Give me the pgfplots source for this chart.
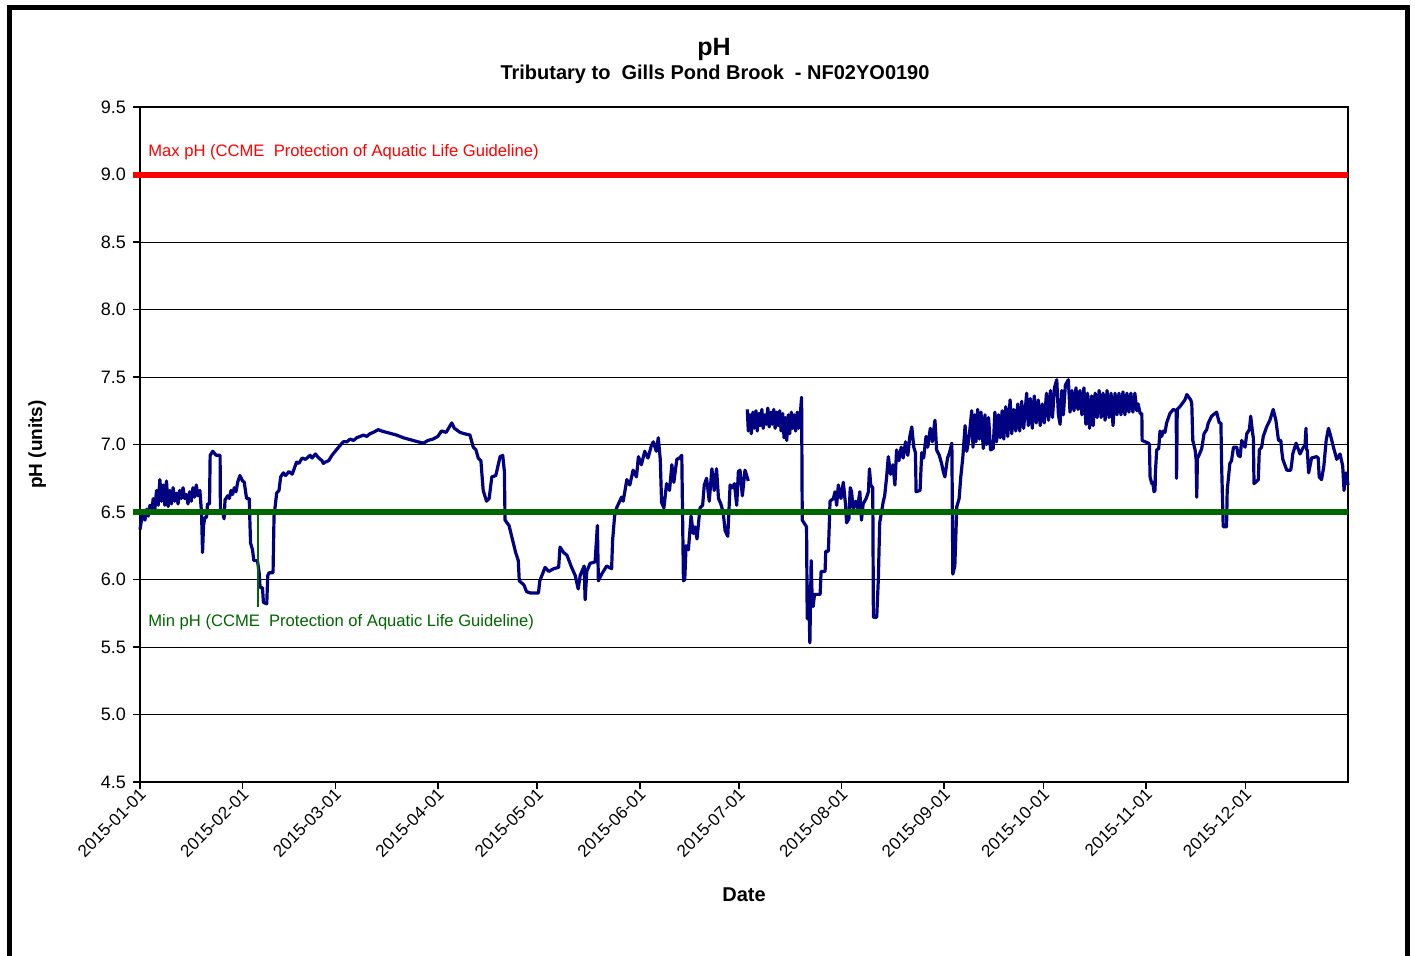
\documentclass[border=0pt]{standalone}
\usepackage{fontspec}
\setmainfont{Liberation Sans}
\usepackage{pgfplots}
\pgfplotsset{compat=1.18}
\definecolor{phnavy}{RGB}{0,0,128}
\definecolor{minGreen}{RGB}{0,102,0}

\begin{document}
\begin{tikzpicture}
\useasboundingbox (-70pt,-86.5pt) rectangle (637.5pt,391pt);
% outer chart frame (bottom edge lies below the page)
\draw[line width=2.5pt] (-65pt,-95pt) -- (-65pt,387pt) -- (633.5pt,387pt) -- (633.5pt,-95pt);
\node[font=\bfseries\fontsize{12.5}{14}\selectfont] at (287pt,366.5pt) {pH};
\node[font=\bfseries\fontsize{10}{12}\selectfont] at (287.5pt,354pt) {Tributary to\ \ Gills Pond Brook\ \ - NF02YO0190};

\begin{axis}[
  at={(0,0)}, anchor=south west,
  scale only axis, width=604pt, height=337.5pt,
  xmin=0, xmax=365, ymin=4.5, ymax=9.5,
  ytick={4.5,5.0,5.5,6.0,6.5,7.0,7.5,8.0,8.5,9.0,9.5},
  yticklabel style={font=\fontsize{9}{10}\selectfont, /pgf/number format/.cd, fixed, fixed zerofill, precision=1},
  /pgf/number format/assume math mode=true,
  xtick={0,31,59,90,120,151,181,212,243,273,304,334},
  xticklabels={2015-01-01,2015-02-01,2015-03-01,2015-04-01,2015-05-01,2015-06-01,2015-07-01,2015-08-01,2015-09-01,2015-10-01,2015-11-01,2015-12-01},
  xticklabel style={rotate=45, anchor=east, font=\fontsize{8.6}{9}\selectfont, xshift=3.5pt, yshift=-2pt},
  tick pos=left, tick align=outside, major tick length=3.5pt,
  tick style={black, line width=0.75pt},
  axis line style={line width=0.75pt},
  ymajorgrids, grid style={black, line width=0.5pt},
  xlabel={Date}, ylabel={pH (units)},
  xlabel style={font=\bfseries\fontsize{10}{12}\selectfont, at={(axis description cs:0.5,-0.167)}, anchor=center},
  ylabel style={font=\bfseries\fontsize{9.5}{11}\selectfont, at={(axis description cs:-0.085,0.5)}, anchor=center},
  clip=false,
]
% measured pH, January to end of June
\addplot[phnavy, line width=1.6pt, line join=round] coordinates {
(0,6.37)(0.5,6.45)(1,6.49)(1.5,6.44)(2,6.52)(2.5,6.47)(3,6.55)(3.5,6.50)(4,6.60)(4.5,6.52)
(5,6.66)(5.5,6.55)(6,6.74)(6.5,6.58)(7,6.70)(7.5,6.55)(8,6.73)(8.5,6.54)(9,6.66)(9.5,6.56)
(10,6.68)(10.5,6.58)(11,6.64)(11.5,6.56)(12,6.66)(12.5,6.60)(13,6.68)(13.5,6.60)(14,6.63)(14.5,6.56)
(15,6.65)(15.5,6.58)(16,6.68)(16.5,6.61)(17,6.70)(17.5,6.62)(18.1,6.66)(18.6,6.49)(18.9,6.20)(19.2,6.40)
(19.6,6.46)(20.1,6.46)(20.4,6.56)(21.0,6.56)(21.2,6.92)(22,6.95)(23,6.92)(24.2,6.92)(24.3,6.52)(25,6.50)
(25.4,6.45)(25.7,6.59)(26.5,6.62)(27,6.60)(27.5,6.66)(28,6.63)(28.5,6.68)(29,6.65)(29.5,6.72)(30.2,6.77)
(31,6.73)(31.5,6.72)(32.2,6.60)(33,6.60)(33.4,6.27)(34,6.22)(34.4,6.14)(35.5,6.14)(36,6.05)(36.3,5.94)
(37,5.94)(37.3,5.83)(38.3,5.82)(38.6,6.03)(39,6.05)(40.2,6.05)(40.5,6.47)(41.3,6.64)(42,6.66)(42.5,6.76)
(43.3,6.79)(44,6.77)(45,6.80)(46,6.78)(47.3,6.87)(48,6.86)(49,6.90)(50,6.89)(51.4,6.92)(52,6.90)
(53,6.93)(54,6.90)(55,6.88)(55.4,6.86)(56,6.87)(57,6.88)(58,6.92)(59,6.95)(60,6.98)(61.4,7.02)
(62.5,7.02)(63.5,7.04)(64.5,7.03)(65.5,7.05)(66.5,7.06)(67.5,7.07)(68.5,7.06)(69.5,7.08)(70.5,7.09)(72,7.11)
(73,7.10)(74.5,7.09)(76,7.08)(77.5,7.07)(79.6,7.05)(81,7.04)(82.5,7.03)(84,7.02)(85.6,7.01)(87,7.03)
(88.5,7.04)(90,7.06)(91.1,7.10)(92.5,7.09)(94.2,7.16)(95,7.12)(96.7,7.09)(98,7.08)(99.7,7.07)(100.7,6.98)
(101.5,6.96)(102.2,6.90)(103,6.88)(103.7,6.66)(104.7,6.58)(105.5,6.60)(106.3,6.76)(107.5,6.77)(108.8,6.91)(109.6,6.92)
(110.1,6.80)(110.3,6.44)(111.5,6.40)(112.8,6.27)(113.5,6.20)(114.3,6.14)(114.6,5.99)(116,5.96)(116.8,5.91)(118,5.90)
(120.4,5.90)(120.8,5.99)(122.4,6.09)(123.5,6.06)(125,6.08)(126.5,6.09)(126.9,6.24)(128,6.20)(129,6.18)(130.4,6.09)
(131.5,6.03)(132.4,5.93)(133,6.03)(134.2,6.10)(134.5,5.85)(135,6.06)(136,6.12)(137.5,6.13)(138.2,6.40)(138.5,5.99)
(139.5,6.04)(141,6.10)(142.5,6.08)(142.8,6.29)(143.4,6.47)(144,6.53)(145.5,6.61)(146,6.58)(147.1,6.74)(148,6.70)
(149,6.81)(150,6.76)(150.6,6.91)(151.5,6.85)(152.5,6.95)(153.5,6.90)(154.5,6.99)(155.1,7.02)(156,6.95)(156.6,7.05)
(157.2,6.89)(157.6,6.57)(158.3,6.53)(159.1,6.71)(160,6.66)(160.7,6.85)(161.3,6.72)(162.2,6.89)(163,6.90)(163.7,6.92)
(163.9,6.55)(164.2,5.99)(164.6,6.00)(165,6.25)(165.7,6.22)(166.5,6.47)(167.2,6.34)(167.7,6.39)(168.3,6.30)(169.2,6.53)
(170,6.55)(170.5,6.70)(171.2,6.75)(172,6.58)(172.8,6.82)(173.5,6.66)(174.2,6.82)(174.8,6.60)(175.5,6.56)(176.2,6.50)
(176.8,6.36)(177.6,6.32)(178.3,6.70)(179,6.68)(179.6,6.71)(180.3,6.55)(180.8,6.80)(181.3,6.81)(182,6.62)(182.8,6.81)
(183.8,6.73)
};
% measured pH, July to end of December
\addplot[phnavy, line width=1.6pt, line join=round] coordinates {
(183.5,7.26)(183.8,7.10)(184.3,7.22)(184.7,7.08)(185.2,7.24)(185.6,7.12)(186.1,7.25)(186.5,7.10)(187,7.23)(187.4,7.14)
(187.9,7.26)(188.3,7.12)(188.8,7.22)(189.2,7.15)(189.7,7.27)(190.1,7.13)(190.6,7.24)(191,7.15)(191.5,7.26)(191.9,7.12)
(192.4,7.24)(192.8,7.14)(193.3,7.25)(193.7,7.10)(194.2,7.23)(194.6,7.05)(195,7.20)(195.4,7.03)(195.9,7.22)(196.3,7.08)
(196.8,7.24)(197.2,7.12)(197.7,7.22)(198.1,7.10)(198.6,7.24)(199,7.12)(199.5,7.22)(199.9,7.35)(200.1,6.44)(201.4,6.39)
(201.6,5.71)(202.0,5.95)(202.4,5.53)(202.8,6.14)(203.1,5.85)(203.4,5.80)(203.8,5.89)(205.5,5.89)(205.8,6.06)(207,6.06)
(207.2,6.21)(208,6.21)(208.3,6.43)(208.5,6.58)(209.5,6.60)(210,6.65)(210.5,6.55)(211,6.70)(211.8,6.60)(212.5,6.72)
(213.2,6.55)(213.5,6.42)(214.2,6.45)(214.6,6.68)(215,6.65)(215.5,6.52)(216.2,6.58)(216.8,6.53)(217.5,6.65)(218,6.44)
(218.5,6.56)(219.4,6.60)(220.1,6.65)(220.4,6.82)(220.8,6.70)(221.4,6.68)(221.6,5.72)(222.6,5.72)(223.1,6.01)(223.5,6.42)
(224.6,6.58)(225,6.62)(225.6,6.76)(226.1,6.91)(226.8,6.78)(227.5,6.85)(228.1,6.70)(228.6,6.96)(229.3,6.88)(230,6.98)
(230.6,6.90)(231.3,7.02)(232,6.92)(232.6,7.06)(233.2,7.13)(233.8,6.98)(234.3,6.94)(234.5,6.65)(235.7,6.66)(236.2,6.94)
(236.8,6.90)(237.5,7.06)(238,6.98)(238.8,7.12)(239.4,7.02)(240.2,7.18)(240.7,6.96)(241.5,6.92)(242.2,6.86)(242.7,6.80)
(243.2,6.76)(244,6.90)(244.6,6.94)(245.3,7.01)(245.6,6.04)(246.2,6.10)(246.8,6.54)(247.5,6.60)(248,6.76)(248.6,6.90)
(249.3,7.14)(249.8,6.95)(250.5,7.05)(251.3,7.25)(251.7,6.98)(252.2,7.22)(252.6,7.02)(253.1,7.26)(253.6,7.04)(254.1,7.24)
(254.8,6.97)(255.3,7.22)(255.8,7.00)(256.4,7.20)(257,6.96)(257.8,6.97)(258.3,7.24)(258.8,7.02)(259.4,7.22)(259.9,7.05)
(260.5,7.25)(261,7.04)(261.6,7.28)(262.2,7.06)(262.9,7.33)(263.4,7.08)(264,7.26)(264.6,7.10)(265.2,7.30)(265.8,7.10)
(266.4,7.32)(267,7.12)(267.9,7.38)(268.4,7.14)(269,7.34)(269.6,7.12)(270.2,7.36)(270.8,7.16)(271.4,7.33)(272,7.14)
(272.6,7.30)(273.2,7.16)(273.9,7.38)(274.5,7.18)(275.1,7.40)(275.7,7.20)(276.3,7.42)(277,7.48)(277.5,7.22)(278,7.15)
(278.5,7.40)(279,7.22)(279.6,7.44)(280.5,7.48)(281,7.24)(281.6,7.40)(282.2,7.25)(282.8,7.42)(283.4,7.26)(284,7.40)
(284.6,7.22)(285.2,7.42)(285.8,7.15)(286.3,7.38)(286.9,7.12)(287.5,7.36)(288,7.14)(288.6,7.38)(289.2,7.20)(289.8,7.40)
(290.4,7.20)(291,7.38)(291.6,7.18)(292.2,7.40)(292.8,7.20)(293.4,7.38)(294,7.14)(294.6,7.38)(295.2,7.22)(295.8,7.38)
(296.4,7.22)(297,7.39)(297.6,7.22)(298.2,7.38)(298.8,7.24)(299.4,7.38)(300,7.24)(300.6,7.38)(301.2,7.25)(301.6,7.30)
(302.2,7.23)(302.7,7.23)(302.8,7.03)(304.7,7.01)(305.0,7.00)(305.2,6.76)(305.7,6.71)(306.0,6.72)(306.4,6.65)(306.7,6.66)
(306.8,6.79)(307.2,6.96)(307.8,6.97)(308.2,7.10)(308.7,7.06)(309.2,7.10)(309.7,7.09)(310.2,7.16)(311.2,7.23)(312.2,7.26)
(313.1,7.25)(313.2,6.75)(313.4,7.26)(314.2,7.28)(315.7,7.33)(316.3,7.37)(317.5,7.33)(317.8,7.30)(318.1,7.03)(318.8,6.96)
(319.1,6.89)(319.3,6.61)(319.5,6.90)(319.8,6.91)(320.8,6.97)(321.5,7.08)(322.3,7.11)(322.8,7.16)(323.8,7.21)(324.8,7.23)
(325.3,7.24)(326.1,7.16)(326.6,7.16)(326.8,6.86)(327.3,6.39)(328.3,6.39)(328.5,6.66)(329.3,6.86)(329.8,6.88)(330.4,6.98)
(331.4,6.98)(331.8,6.92)(332.4,6.91)(332.9,7.03)(333.9,6.98)(334.4,7.08)(335.2,7.11)(335.6,7.21)(336.2,7.08)(336.4,7.05)
(336.6,6.71)(337.9,6.74)(338.2,6.96)(338.9,6.98)(339.4,7.06)(340.4,7.13)(341.4,7.18)(342.4,7.26)(343.2,7.18)(344.0,7.03)
(344.7,7.03)(345.0,6.95)(345.3,6.89)(346.5,6.81)(347.7,6.81)(348.0,6.86)(348.3,6.93)(349.3,7.01)(350.5,6.93)(351.5,6.98)
(352.0,6.99)(352.3,7.12)(352.5,6.96)(352.7,6.96)(353.1,6.79)(354.0,6.90)(355.5,6.91)(356.0,6.90)(356.3,6.76)(357.0,6.74)
(357.7,6.84)(358.4,7.03)(359.1,7.12)(359.8,7.06)(360.6,6.98)(361.6,6.89)(362.6,6.93)(363.4,6.84)(363.8,6.66)(364.4,6.79)
(365,6.70)
};
% guideline limits
\addplot[minGreen, line width=0.7pt] coordinates {(35.6,6.5)(35.6,5.80)};
\addplot[minGreen, line width=3pt] coordinates {(-2.1,6.5)(365,6.5)};
\addplot[red, line width=3pt] coordinates {(-2.1,9.0)(365,9.0)};
\node[anchor=west, text=red, font=\fontsize{8.3}{9}\selectfont, inner sep=0pt] at (axis cs:2.4,9.167) {Max pH (CCME\ \ Protection of Aquatic Life Guideline)};
\node[anchor=west, text=minGreen, font=\fontsize{8.3}{9}\selectfont, inner sep=0pt] at (axis cs:2.4,5.685) {Min pH (CCME\ \ Protection of Aquatic Life Guideline)};
\end{axis}
\end{tikzpicture}
\end{document}
